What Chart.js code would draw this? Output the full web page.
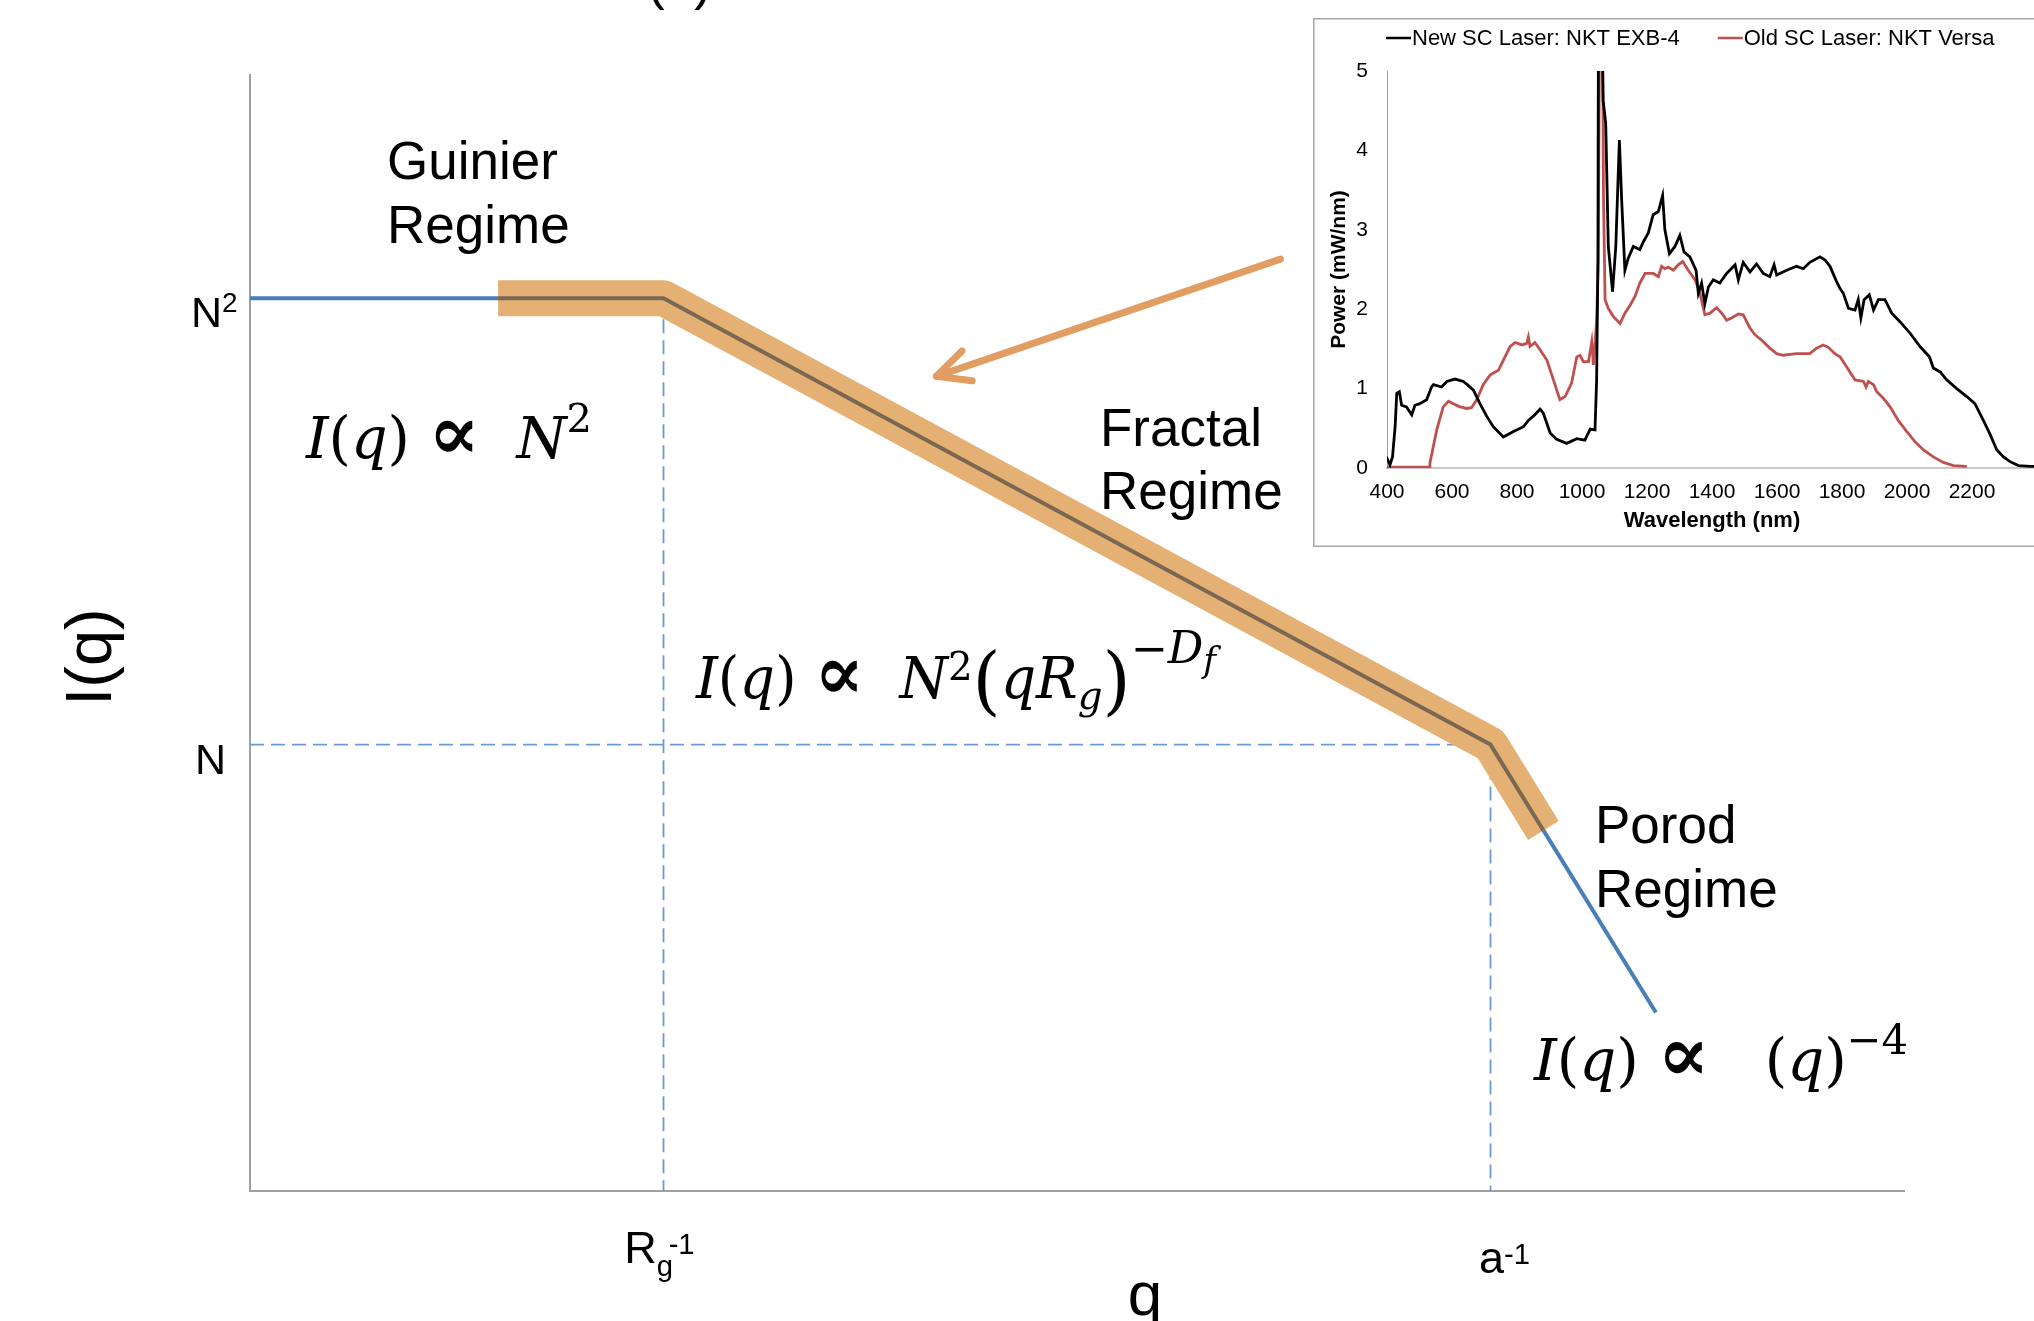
<!DOCTYPE html>
<html><head><meta charset="utf-8">
<script src="https://cdn.jsdelivr.net/npm/chart.js@4.4.1/dist/chart.umd.min.js"></script>
<style>
html,body{margin:0;padding:0;background:#fff;overflow:hidden;width:2034px;height:1321px;}
#main{position:absolute;left:0;top:0;}
#inset{position:absolute;left:1313px;top:18px;background:#fff;}
</style></head><body>
<canvas id="main" width="2034" height="1321" style="width:2034px;height:1321px"></canvas>
<canvas id="inset" width="760" height="529" style="width:760px;height:529px"></canvas>
<script>
// ===== Main schematic (scattering curve) data =====
const qValues = [0, 25, 75, 85];
const intensityValues = [80, 80, 40, 16];
const bandQ = [15, 25, 75, 78.2];
const bandI = [80, 80, 40, 32.3];
const guideRgQ = [25, 25];
const guideRgI = [80, 0];
const guideNQ = [0, 75];
const guideNI = [40, 40];
const guideAQ = [75, 75];
const guideAI = [40, 0];
const xTickValues = [25, 75];
const yTickValues = [80, 40];
const arrowQ = [62.3, 41.5];
const arrowI = [83.5, 73.0];

// ===== Inset spectrum data =====
const newWavelength = [398,409,417,425,430,438,445,460,476,486,501,522,537,543,568,584,609,635,647,666,686,707,727,758,789,820,835,855,871,881,902,922,953,984,1009,1025,1040,1045,1049,1051,1058,1065,1073,1081,1094,1104,1115,1122,1132,1142,1158,1178,1189,1204,1219,1235,1248,1255,1269,1286,1301,1314,1332,1351,1358,1368,1378,1389,1404,1424,1445,1471,1481,1496,1517,1537,1558,1578,1591,1599,1630,1660,1681,1701,1732,1748,1763,1783,1794,1804,1820,1840,1850,1858,1868,1884,1897,1912,1932,1953,1979,2009,2040,2069,2081,2102,2122,2153,2184,2209,2235,2256,2276,2297,2317,2343,2379,2400];
const newPower = [0.14,0.04,0.14,0.52,0.94,0.96,0.79,0.77,0.67,0.79,0.81,0.86,1.02,1.05,1.02,1.09,1.12,1.09,1.05,0.98,0.81,0.65,0.52,0.39,0.46,0.52,0.60,0.67,0.74,0.69,0.44,0.36,0.31,0.37,0.35,0.49,0.48,1.1,2.6,6.5,6.5,4.63,4.34,2.79,2.22,2.79,4.13,3.38,2.49,2.64,2.79,2.75,2.85,2.96,3.19,3.23,3.43,3.0,2.70,2.79,2.93,2.72,2.66,2.49,2.20,2.33,2.07,2.28,2.37,2.33,2.45,2.56,2.37,2.59,2.47,2.57,2.45,2.41,2.56,2.43,2.49,2.54,2.51,2.59,2.66,2.62,2.54,2.35,2.26,2.20,2.01,1.99,2.12,1.89,2.12,2.18,1.99,2.12,2.12,1.95,1.84,1.70,1.53,1.40,1.26,1.21,1.11,1.00,0.90,0.81,0.60,0.42,0.23,0.14,0.08,0.03,0.02,0.02];
const oldWavelength = [400,530,532,553,573,589,604,625,645,660,676,696,717,743,763,779,794,815,830,835,840,855,871,892,912,932,948,968,984,994,1004,1020,1030,1035,1040,1045,1050,1055,1062,1066,1071,1081,1096,1117,1132,1148,1163,1178,1194,1219,1235,1245,1255,1265,1281,1296,1310,1327,1348,1363,1378,1394,1414,1430,1445,1460,1481,1496,1517,1532,1558,1578,1599,1619,1660,1701,1722,1742,1758,1778,1794,1815,1840,1866,1874,1881,1897,1907,1927,1948,1973,1999,2025,2050,2081,2112,2143,2184];
const oldPower = [0.01,0.01,0.06,0.48,0.77,0.84,0.81,0.77,0.75,0.76,0.86,1.05,1.17,1.23,1.40,1.53,1.58,1.55,1.57,1.65,1.53,1.58,1.49,1.36,1.11,0.86,0.90,1.07,1.40,1.42,1.34,1.34,1.59,1.30,1.57,1.86,2.62,6.5,6.5,3.46,2.12,2.01,1.91,1.82,1.95,2.05,2.16,2.33,2.45,2.45,2.41,2.54,2.51,2.53,2.49,2.56,2.60,2.49,2.37,2.20,1.93,1.95,2.02,1.95,1.86,1.89,1.94,1.93,1.76,1.68,1.59,1.51,1.44,1.42,1.44,1.44,1.51,1.55,1.52,1.44,1.40,1.27,1.11,1.09,1.02,1.09,1.05,0.96,0.88,0.77,0.60,0.46,0.33,0.23,0.14,0.07,0.03,0.02];
const insetXTicks = [400,600,800,1000,1200,1400,1600,1800,2000,2200];

const SANS = '"Liberation Sans", Arial, sans-serif';
const SERIF = '"DejaVu Serif", serif';

function pts(xs, ys){ return xs.map((x,i)=>({x:x, y:ys[i]})); }

function drawRuns(ctx, runs, x, y, size, family, targetWidth, align){
  let total = 0;
  const items = runs.map(r=>{
    const s = size*(r.s||1);
    const font = (r.i?'italic ':'') + (r.b?'bold ':'') + s + 'px ' + family;
    ctx.font = font;
    const w = ctx.measureText(r.t).width;
    const it = {t:r.t, font:font, w:w, dy:(r.dy||0)*size, dx:(r.dx||0)*size};
    total += w + it.dx;
    return it;
  });
  const k = targetWidth ? targetWidth/total : 1;
  let x0 = x;
  if (align==='center') x0 = x - total*k/2;
  else if (align==='right') x0 = x - total*k;
  ctx.save();
  ctx.translate(x0, y);
  ctx.scale(k, 1);
  ctx.textBaseline = 'alphabetic';
  ctx.textAlign = 'left';
  let cx = 0;
  for (const it of items){ cx += it.dx; ctx.font = it.font; ctx.fillText(it.t, cx, it.dy); cx += it.w; }
  ctx.restore();
}

const PROP = [{t:' '},{t:'\u221D',s:1.35,b:true,dy:0.02},{t:'  '}];

const mainAnnotations = {
  id: 'mainAnnotations',
  afterDatasetsDraw(chart){
    const ctx = chart.ctx;
    const xs = chart.scales.x, ys = chart.scales.y;
    ctx.save();
    // arrow
    const tx = xs.getPixelForValue(arrowQ[0]), ty = ys.getPixelForValue(arrowI[0]);
    const hx = xs.getPixelForValue(arrowQ[1]), hy = ys.getPixelForValue(arrowI[1]);
    ctx.strokeStyle = '#E29D63';
    ctx.lineWidth = 7;
    ctx.lineCap = 'round';
    ctx.lineJoin = 'round';
    ctx.beginPath(); ctx.moveTo(tx,ty); ctx.lineTo(hx,hy); ctx.stroke();
    const ang = Math.atan2(ty-hy, tx-hx);
    const L = 36, da = 26*Math.PI/180;
    ctx.beginPath();
    ctx.moveTo(hx + L*Math.cos(ang-da), hy + L*Math.sin(ang-da));
    ctx.lineTo(hx, hy);
    ctx.lineTo(hx + L*Math.cos(ang+da), hy + L*Math.sin(ang+da));
    ctx.stroke();

    ctx.fillStyle = '#000';
    // regime labels
    ctx.font = '53px ' + SANS;
    ctx.textAlign = 'left'; ctx.textBaseline = 'alphabetic';
    ctx.fillText('Guinier', 387, 179); ctx.fillText('Regime', 387, 243);
    ctx.fillText('Fractal', 1100, 446); ctx.fillText('Regime', 1100, 509);
    ctx.fillText('Porod', 1595, 843); ctx.fillText('Regime', 1595, 907);
    ctx.fillText('(a)', 647, -1);

    // formulas
    drawRuns(ctx, [
      {t:'I',i:true},{t:'('},{t:'q',i:true},{t:')'}].concat(PROP, [{t:'N',i:true},{t:'2',s:0.7,dy:-0.45}
    ]), 306, 458, 57, SERIF, 286);
    drawRuns(ctx, [
      {t:'I',i:true},{t:'('},{t:'q',i:true},{t:')'}].concat(PROP, [{t:'N',i:true},{t:'2',s:0.7,dy:-0.32},
      {t:'(',s:1.3,dy:0.14},{t:'q',i:true},{t:'R',i:true},{t:'g',i:true,s:0.7,dy:0.2},{t:')',s:1.3,dy:0.14},
      {t:'\u2212',s:0.8,dy:-0.6},{t:'D',i:true,s:0.8,dy:-0.62},{t:'f',i:true,s:0.62,dy:-0.45}
    ]), 696, 698, 57, SERIF, 520);
    drawRuns(ctx, [
      {t:'I',i:true},{t:'('},{t:'q',i:true},{t:')'}].concat(PROP, [{t:' '},{t:'('},{t:'q',i:true},{t:')'},{t:'\u22124',s:0.72,dy:-0.45}
    ]), 1534, 1080, 58, SERIF, 374);

    // y tick labels
    const n2y = ys.getPixelForValue(yTickValues[0]);
    const ny = ys.getPixelForValue(yTickValues[1]);
    drawRuns(ctx, [{t:'N'},{t:'2',s:0.65,dy:-0.36}], 191, n2y + 29, 43, SANS);
    drawRuns(ctx, [{t:'N'}], 195, ny + 29, 43, SANS);
    // x tick labels
    const rgx = xs.getPixelForValue(xTickValues[0]);
    const ax = xs.getPixelForValue(xTickValues[1]);
    drawRuns(ctx, [{t:'R'},{t:'g',s:0.65,dy:0.28},{t:'-1',s:0.65,dx:-0.1,dy:-0.2}], rgx - 4, 1263, 45, SANS, null, 'center');
    drawRuns(ctx, [{t:'a'},{t:'-1',s:0.65,dy:-0.2}], ax + 14, 1273, 45, SANS, null, 'center');
    // axis titles
    ctx.font = '62px ' + SANS;
    ctx.textAlign = 'center';
    ctx.fillText('q', 1145, 1315);
    ctx.save();
    ctx.translate(93, 657);
    ctx.rotate(-Math.PI/2);
    ctx.font = '65px ' + SANS;
    ctx.textBaseline = 'middle';
    ctx.fillText('I(q)', 0, 0);
    ctx.restore();
    ctx.restore();
  }
};

const guideStyle = {borderColor:'#6A9AD6', borderWidth:1.8, borderDash:[14,7], pointRadius:0, tension:0, fill:false};

new Chart(document.getElementById('main'), {
  type: 'line',
  data: {
    datasets: [
      {label:'core', data: pts(bandQ, bandI), borderColor:'#7B6852', borderWidth:4, pointRadius:0, tension:0, order:0, borderJoinStyle:'round'},
      {label:'highlight', data: pts(bandQ, bandI), borderColor:'#E4B073', borderWidth:36, pointRadius:0, tension:0, order:1, borderCapStyle:'butt', borderJoinStyle:'round'},
      {label:'I(q)', data: pts(qValues, intensityValues), borderColor:'#4A7EBB', borderWidth:4, pointRadius:0, tension:0, order:2},
      Object.assign({label:'Rg', data: pts(guideRgQ, guideRgI), order:3}, guideStyle),
      Object.assign({label:'N', data: pts(guideNQ, guideNI), order:4}, guideStyle),
      Object.assign({label:'a', data: pts(guideAQ, guideAI), order:5}, guideStyle)
    ]
  },
  options: {
    responsive:false, animation:false, devicePixelRatio:1,
    layout:{padding:{left:0, top:75, right:130, bottom:0}},
    plugins:{legend:{display:false}, tooltip:{enabled:false}},
    scales:{
      x:{type:'linear', min:0, max:100, grid:{display:false, drawTicks:false}, border:{display:true, color:'#A0A0A0', width:2}, ticks:{display:false}, afterFit(s){ s.height = 130; }},
      y:{type:'linear', min:0, max:100, grid:{display:false, drawTicks:false}, border:{display:true, color:'#A0A0A0', width:2}, ticks:{display:false}, afterFit(s){ s.width = 250; }}
    }
  },
  plugins:[mainAnnotations]
});

const insetDecor = {
  id:'insetDecor',
  afterDraw(chart){
    const ctx = chart.ctx;
    ctx.save();
    ctx.strokeStyle = '#A6A6A6'; ctx.lineWidth = 1.5;
    ctx.strokeRect(0.75, 0.75, chart.width-1.5, chart.height-1.5);
    ctx.font = '22px ' + SANS;
    ctx.textBaseline = 'middle'; ctx.textAlign = 'left';
    let x = 73; const y = 20;
    chart.data.datasets.forEach(ds=>{
      ctx.strokeStyle = ds.borderColor; ctx.lineWidth = 2.5;
      ctx.beginPath(); ctx.moveTo(x, y); ctx.lineTo(x+25, y); ctx.stroke();
      ctx.fillStyle = '#000';
      ctx.fillText(ds.label, x+26, y+1);
      x += 26 + ctx.measureText(ds.label).width + 38;
    });
    ctx.restore();
  }
};

new Chart(document.getElementById('inset'), {
  type:'line',
  data:{
    datasets:[
      {label:'New SC Laser: NKT EXB-4', data: pts(newWavelength, newPower), borderColor:'#000000', borderWidth:2.8, pointRadius:0, tension:0},
      {label:'Old SC Laser: NKT Versa', data: pts(oldWavelength, oldPower), borderColor:'#C0504D', borderWidth:2.8, pointRadius:0, tension:0}
    ]
  },
  options:{
    responsive:false, animation:false, devicePixelRatio:1,
    layout:{padding:{left:0, top:53, right:36, bottom:0}},
    plugins:{legend:{display:false}, tooltip:{enabled:false}},
    scales:{
      x:{type:'linear', min:400, max:2400,
        afterBuildTicks(s){ s.ticks = insetXTicks.map(v=>({value:v})); },
        ticks:{autoSkip:false, maxRotation:0, padding:12, color:'#000', font:{family:SANS, size:21}, callback:(v)=>String(v)},
        grid:{display:false, drawTicks:false}, border:{display:true, color:'#C8C8C8', width:2},
        title:{display:true, text:'Wavelength (nm)', color:'#000', font:{family:SANS, size:22, weight:'bold'}, padding:{top:0,bottom:13}},
        afterFit(s){ s.height = 79; }},
      y:{type:'linear', min:0, max:5,
        ticks:{stepSize:1, padding:19, color:'#000', font:{family:SANS, size:21}},
        grid:{display:false, drawTicks:false}, border:{display:true, color:'#A0A0A0', width:1},
        title:{display:true, text:'Power (mW/nm)', color:'#000', font:{family:SANS, size:21, weight:'bold'}, padding:{top:14,bottom:0}},
        afterFit(s){ s.width = 74; }}
    }
  },
  plugins:[insetDecor]
});
</script>
</body></html>
